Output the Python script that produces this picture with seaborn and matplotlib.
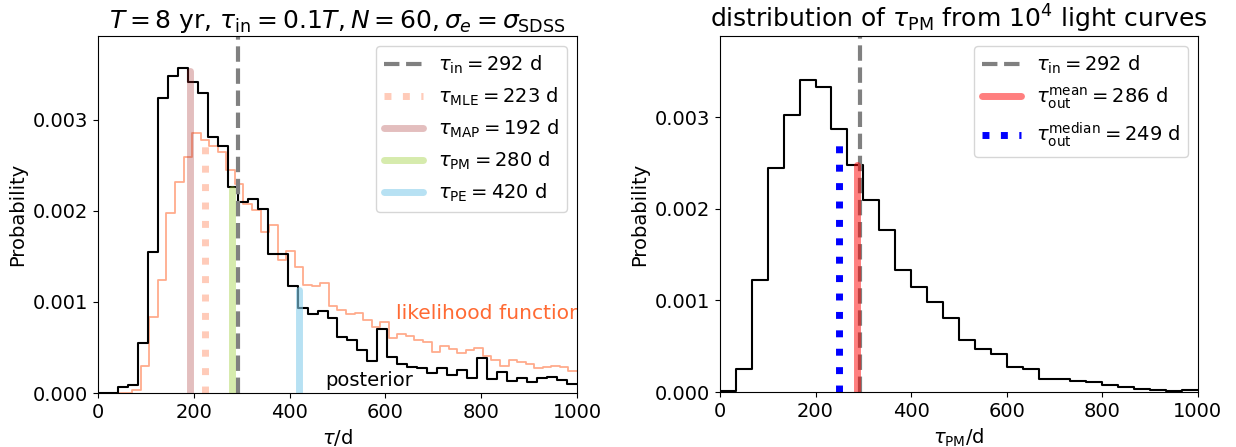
import numpy as np
import pandas as pd
import matplotlib
matplotlib.use("Agg")
import matplotlib.pyplot as plt
import seaborn as sns

# Posterior of tau for one light curve (density, 48 equal bins over 0-1000 d), units of 1e-3
posterior = [0, 0, 0.066, 0.092, 0.554, 1.55, 3.24, 3.48, 3.57, 3.41, 3.29, 2.81,
             2.71, 2.26, 2.10, 2.13, 2.02, 1.53, 1.53, 1.17, 0.934, 0.87, 0.90, 0.82,
             0.615, 0.58, 0.477, 0.35, 0.70, 0.40, 0.32, 0.29, 0.28, 0.22, 0.28, 0.195,
             0.25, 0.17, 0.38, 0.15, 0.23, 0.13, 0.17, 0.12, 0.16, 0.176, 0.14, 0.10]

# Likelihood function (density, 56 equal bins over 0-1000 d), units of 1e-3
likelihood = [0, 0, 0, 0, 0.037, 0.30, 0.83, 1.24, 1.98, 2.32, 2.59, 2.85,
              2.78, 2.71, 2.65, 2.45, 2.29, 2.08, 2.01, 1.77, 1.84, 1.46, 1.56, 1.38,
              1.19, 1.18, 1.21, 0.95, 0.91, 0.865, 0.88, 0.80, 0.725, 0.777, 0.60, 0.65,
              0.63, 0.58, 0.56, 0.45, 0.52, 0.48, 0.44, 0.47, 0.49, 0.41, 0.36, 0.30,
              0.36, 0.34, 0.32, 0.28, 0.29, 0.30, 0.29, 0.24]

# Distribution of tau_PM from 10^4 light curves (density, 30 bins over 0-1000 d), units of 1e-3
tau_pm_dist = [0.008, 0.248, 1.22, 2.45, 3.03, 3.41, 3.33, 2.87, 2.48, 2.10, 1.77, 1.33,
               1.15, 0.98, 0.81, 0.57, 0.47, 0.41, 0.27, 0.25, 0.146, 0.14, 0.12, 0.11,
               0.073, 0.055, 0.037, 0.02, 0.01, 0.02]

# Point estimates (days) and the heights their markers reach (units of 1e-3)
tau_in = 292
est_names = ["MLE", "MAP", "PM", "PE"]
est_values = [223, 192, 280, 420]
est_tops = [2.80, 3.54, 2.24, 1.13]

out_names = ["mean", "median"]
out_values = [286, 249]
out_tops = [2.48, 2.78]

sns.set_theme(style="ticks")
plt.rcParams.update({
    "font.family": ["DejaVu Sans"],
    "axes.edgecolor": "black",
    "axes.linewidth": 0.8,
    "xtick.color": "black",
    "ytick.color": "black",
    "xtick.major.size": 3.5,
    "ytick.major.size": 3.5,
    "xtick.major.width": 0.8,
    "ytick.major.width": 0.8,
    "xtick.major.pad": 3.5,
    "ytick.major.pad": 3.5,
    "text.color": "black",
    "axes.labelcolor": "black",
    "xtick.labelsize": 14,
    "ytick.labelsize": 14,
    "axes.labelsize": 14,
    "legend.fontsize": 14,
    "mathtext.fontset": "dejavusans",
})


def step_hist(ax, dens, nbins, **kw):
    edges = np.linspace(0, 1000, nbins + 1)
    df = pd.DataFrame({"tau": 0.5 * (edges[:-1] + edges[1:]),
                       "dens": np.asarray(dens, dtype=float) * 1e-3})
    sns.histplot(data=df, x="tau", weights="dens", bins=edges.tolist(), stat="count",
                 element="step", fill=False, ax=ax, **kw)


fig = plt.figure(figsize=(12.36, 4.47), dpi=100)
ax1 = fig.add_axes([0.0793, 0.1208, 0.3875, 0.7987])
ax2 = fig.add_axes([0.5825, 0.1230, 0.3867, 0.7965])

# ---- left panel: posterior vs likelihood ----
step_hist(ax1, likelihood, 56, color="orangered", alpha=0.45, linewidth=1.3)
step_hist(ax1, posterior, 48, color="black", linewidth=1.5)

ax1.axvline(tau_in, color="gray", ls="--", lw=3, label=r"$\tau_{\rm in}=%d$ d" % tau_in)
est_styles = [
    dict(color="coral", alpha=0.4, ls=":", lw=5),
    dict(color="brown", alpha=0.3, ls="-", lw=5),
    dict(color="yellowgreen", alpha=0.4, ls="-", lw=5),
    dict(color="skyblue", alpha=0.6, ls="-", lw=5),
]
for name, val, top, st in zip(est_names, est_values, est_tops, est_styles):
    ax1.plot([val, val], [0, top * 1e-3],
             label=r"$\tau_{\rm %s}=%d$ d" % (name, val), **st)

ax1.text(623, 0.00087, "likelihood function", color="orangered", alpha=0.8,
         fontsize=14.6, va="center", ha="left", clip_on=True)
ax1.text(474, 0.00014, "posterior", color="black", fontsize=14, va="center", ha="left")

ax1.set_xlim(0, 1000)
ax1.set_ylim(0, 0.00392)
ax1.set_xticks([0, 200, 400, 600, 800, 1000])
ax1.set_yticks([0, 0.001, 0.002, 0.003])
ax1.set_yticklabels(["0.000", "0.001", "0.002", "0.003"])
ax1.set_xlabel(r"$\tau$/d")
ax1.set_ylabel("Probability")
ax1.set_title(r"$T=8$ yr, $\tau_{\rm in}=0.1T, N=60, \sigma_e=\sigma_{\rm SDSS}$",
              fontsize=18)
ax1.legend(loc="upper right", handlelength=2.0)

# ---- right panel: distribution of tau_PM ----
step_hist(ax2, tau_pm_dist, 30, color="black", linewidth=1.5)
ax2.axvline(tau_in, color="gray", ls="--", lw=3, label=r"$\tau_{\rm in}=%d$ d" % tau_in)
out_styles = [
    dict(color="red", alpha=0.5, ls="-", lw=5),
    dict(color="blue", alpha=1.0, ls=":", lw=5),
]
for name, val, top, st in zip(out_names, out_values, out_tops, out_styles):
    ax2.plot([val, val], [0, top * 1e-3],
             label=r"$\tau_{\rm out}^{\rm %s}=%d$ d" % (name, val), **st)

ax2.set_xlim(0, 1000)
ax2.set_ylim(0, 0.00389)
ax2.set_xticks([0, 200, 400, 600, 800, 1000])
ax2.set_yticks([0, 0.001, 0.002, 0.003])
ax2.set_yticklabels(["0.000", "0.001", "0.002", "0.003"])
ax2.set_xlabel(r"$\tau_{\rm PM}$/d")
ax2.set_ylabel("Probability")
ax2.set_title(r"distribution of $\tau_{\rm PM}$ from $10^4$ light curves", fontsize=18)
ax2.legend(loc="upper right", handlelength=2.0)

fig.savefig("out.png", dpi=100)
